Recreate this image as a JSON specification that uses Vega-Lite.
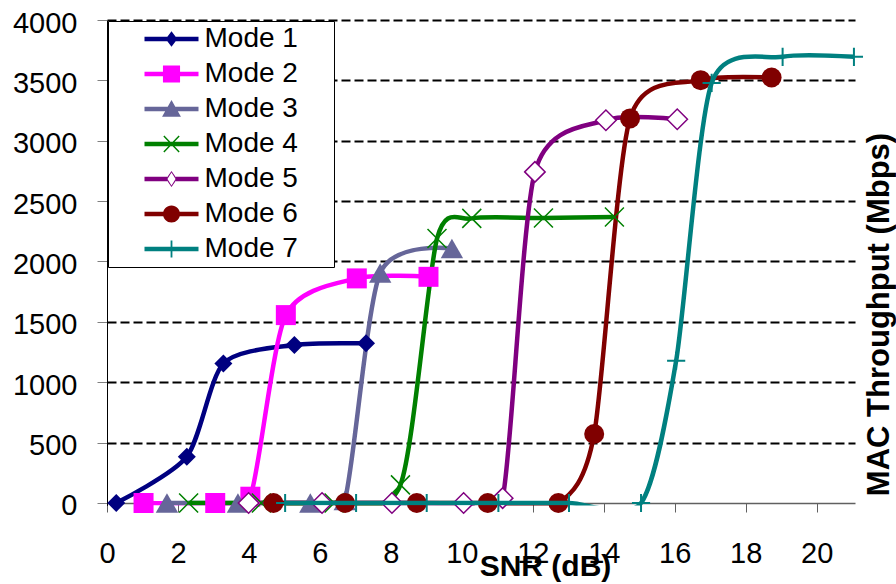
{
 "$schema": "https://vega.github.io/schema/vega-lite/v6.json",
 "autosize": {"type": "none"},
 "padding": {"left": 107, "top": 20, "right": 41, "bottom": 78.6},
 "width": 748,
 "height": 485.4,
 "background": "white",
 "config": {"view": {"stroke": null}, "font": "Liberation Sans", "legend": {"strokeWidth": 1}},
 "data": {"values": [
  {"mode": "Mode 1", "snr": 0.26, "tput": 0},
  {"mode": "Mode 1", "snr": 2.25, "tput": 383},
  {"mode": "Mode 1", "snr": 3.28, "tput": 1155},
  {"mode": "Mode 1", "snr": 5.28, "tput": 1308},
  {"mode": "Mode 1", "snr": 7.30, "tput": 1322},
  {"mode": "Mode 2", "snr": 1.03, "tput": 0},
  {"mode": "Mode 2", "snr": 3.05, "tput": 0},
  {"mode": "Mode 2", "snr": 4.04, "tput": 52},
  {"mode": "Mode 2", "snr": 5.04, "tput": 1556},
  {"mode": "Mode 2", "snr": 7.04, "tput": 1860},
  {"mode": "Mode 2", "snr": 9.06, "tput": 1873},
  {"mode": "Mode 3", "snr": 1.69, "tput": 0},
  {"mode": "Mode 3", "snr": 3.69, "tput": 0},
  {"mode": "Mode 3", "snr": 5.73, "tput": 0},
  {"mode": "Mode 3", "snr": 6.7, "tput": 20},
  {"mode": "Mode 3", "snr": 7.70, "tput": 1905},
  {"mode": "Mode 3", "snr": 9.72, "tput": 2108},
  {"mode": "Mode 4", "snr": 2.3, "tput": 0},
  {"mode": "Mode 4", "snr": 4.35, "tput": 0},
  {"mode": "Mode 4", "snr": 6.4, "tput": 0},
  {"mode": "Mode 4", "snr": 8.27, "tput": 150},
  {"mode": "Mode 4", "snr": 9.3, "tput": 2190},
  {"mode": "Mode 4", "snr": 10.28, "tput": 2357},
  {"mode": "Mode 4", "snr": 12.3, "tput": 2360},
  {"mode": "Mode 4", "snr": 14.3, "tput": 2368},
  {"mode": "Mode 5", "snr": 3.99, "tput": 0},
  {"mode": "Mode 5", "snr": 6.06, "tput": 0},
  {"mode": "Mode 5", "snr": 8.03, "tput": 0},
  {"mode": "Mode 5", "snr": 10.05, "tput": 0},
  {"mode": "Mode 5", "snr": 11.15, "tput": 40},
  {"mode": "Mode 5", "snr": 12.06, "tput": 2742},
  {"mode": "Mode 5", "snr": 14.06, "tput": 3170},
  {"mode": "Mode 5", "snr": 16.07, "tput": 3178},
  {"mode": "Mode 6", "snr": 4.69, "tput": 0},
  {"mode": "Mode 6", "snr": 6.71, "tput": 0},
  {"mode": "Mode 6", "snr": 8.73, "tput": 0},
  {"mode": "Mode 6", "snr": 10.73, "tput": 0},
  {"mode": "Mode 6", "snr": 12.72, "tput": 0},
  {"mode": "Mode 6", "snr": 13.73, "tput": 571},
  {"mode": "Mode 6", "snr": 14.74, "tput": 3185},
  {"mode": "Mode 6", "snr": 16.73, "tput": 3502},
  {"mode": "Mode 6", "snr": 18.73, "tput": 3524},
  {"mode": "Mode 7", "snr": 5.02, "tput": 0},
  {"mode": "Mode 7", "snr": 7.02, "tput": 0},
  {"mode": "Mode 7", "snr": 9.01, "tput": 0},
  {"mode": "Mode 7", "snr": 11.03, "tput": 0},
  {"mode": "Mode 7", "snr": 13.02, "tput": 0},
  {"mode": "Mode 7", "snr": 15.05, "tput": 0},
  {"mode": "Mode 7", "snr": 16.04, "tput": 1178},
  {"mode": "Mode 7", "snr": 17.04, "tput": 3479},
  {"mode": "Mode 7", "snr": 19.04, "tput": 3695},
  {"mode": "Mode 7", "snr": 21.05, "tput": 3695}
 ]},
 "encoding": {
  "x": {
   "field": "snr", "type": "quantitative",
   "scale": {"domain": [0, 21.08], "nice": false, "zero": false},
   "axis": {
    "values": [0, 2, 4, 6, 8, 10, 12, 14, 16, 18, 20],
    "grid": false, "title": "SNR (dB)", "offset": -2.4,
    "tickSize": 9, "tickColor": "#606060", "domainColor": "#606060", "domainWidth": 1.5,
    "labelFont": "Liberation Sans", "labelFontSize": 29, "labelColor": "black", "labelPadding": 27.5,
    "labelFlush": false, "labelOverlap": false,
    "titleFont": "Liberation Sans", "titleFontSize": 30, "titleFontWeight": "bold", "titleColor": "black",
    "titleX": 438, "titleY": 72, "titleBaseline": "alphabetic", "titleAlign": "center"
   }
  },
  "y": {
   "field": "tput", "type": "quantitative",
   "scale": {"domain": [-20, 4000], "nice": false, "zero": false},
   "axis": {
    "values": [0, 500, 1000, 1500, 2000, 2500, 3000, 3500, 4000],
    "format": "d",
    "title": "MAC Throughput (Mbps)",
    "grid": true,
    "gridColor": {"condition": {"test": "datum.value === 0", "value": "transparent"}, "value": "black"},
    "gridDash": [9, 4], "gridWidth": 2,
    "tickSize": 10, "tickColor": "#808080", "domainColor": "black", "domainWidth": 1,
    "labelFont": "Liberation Sans", "labelFontSize": 29, "labelColor": "black", "labelPadding": 20, "labelOffset": 3,
    "labelFlush": false, "labelOverlap": false,
    "titleFont": "Liberation Sans", "titleFontSize": 31, "titleFontWeight": "bold", "titleColor": "black",
    "titleX": 781, "titleY": 294, "titleAngle": 270, "titleBaseline": "alphabetic", "titleAlign": "center"
   }
  },
  "color": {
   "field": "mode", "type": "nominal",
   "scale": {
    "domain": ["Mode 1", "Mode 2", "Mode 3", "Mode 4", "Mode 5", "Mode 6", "Mode 7"],
    "range": ["#000080", "#FF00FF", "#666699", "#008000", "#800080", "#800000", "#008080"]
   },
   "legend": {
    "orient": "none", "legendX": 1, "legendY": 1, "title": null,
    "padding": 4, "fillColor": "white", "strokeColor": "black",
    "symbolSize": 324, "symbolOffset": 45.5, "labelOffset": 19, "symbolStrokeWidth": 0, "symbolOpacity": 1,
    "labelFont": "Liberation Sans", "labelFontSize": 28, "labelColor": "black", "labelLimit": 300,
    "rowPadding": 7,
    "labelExpr": "datum.label + '\u00a0\u00a0\u00a0\u00a0\u200b'"
   }
  }
 },
 "layer": [
  {"mark": {"type": "point", "filled": true, "opacity": 0, "size": 10},
   "encoding": {
    "shape": {
     "field": "mode", "type": "nominal",
     "scale": {
      "domain": ["Mode 1", "Mode 2", "Mode 3", "Mode 4", "Mode 5", "Mode 6", "Mode 7"],
      "range": [
       "M-3,-0.25H3V0.25H-3Z M0,-0.85L0.65,0L0,0.85L-0.65,0Z",
       "M-3,-0.25H3V0.25H-3Z M-0.95,-0.95H0.95V0.95H-0.95Z",
       "M-3,-0.25H3V0.25H-3Z M0,-1L1.05,0.85H-1.05Z",
       "M-3,-0.25H3V0.25H-3Z M-0.908,-0.845L-0.792,-0.955L0.908,0.845L0.792,0.955Z M-0.792,0.955L-0.908,0.845L0.792,-0.955L0.908,-0.845Z",
       "M-3,-0.25H-0.5V0.25H-3Z M0.5,-0.25H3V0.25H0.5Z M0,-0.9L0.62,0L0,0.9L-0.62,0Z M0,-0.72L-0.45,0L0,0.72L0.45,0Z",
       "M-3,-0.25H3V0.25H-3Z M-0.95,0A0.95,0.95,0,1,1,0.95,0A0.95,0.95,0,1,1,-0.95,0Z",
       "M-3,-0.25H3V0.25H-3Z M-0.1,-0.95H0.1V0.95H-0.1Z"
      ]
     },
     "legend": {
      "orient": "none", "legendX": 1, "legendY": 1, "title": null,
      "padding": 4, "fillColor": "white", "strokeColor": "black",
      "symbolSize": 324, "symbolOffset": 45.5, "labelOffset": 19, "symbolStrokeWidth": 0, "symbolOpacity": 1,
      "labelFont": "Liberation Sans", "labelFontSize": 28, "labelColor": "black", "labelLimit": 300,
      "rowPadding": 7,
      "labelExpr": "datum.label + '\u00a0\u00a0\u00a0\u00a0\u200b'"
     }
    }
   }},
  {"transform": [{"filter": "datum.mode != 'Mode 7'"}],
   "mark": {"type": "line", "interpolate": "cardinal", "tension": 0.25, "strokeWidth": 4.5, "clip": true}},
  {"transform": [{"filter": "datum.mode == 'Mode 1'"}],
   "mark": {"type": "point", "shape": "diamond", "filled": true, "size": 324, "opacity": 1}},
  {"transform": [{"filter": "datum.mode == 'Mode 2'"}],
   "mark": {"type": "point", "shape": "square", "filled": true, "size": 400, "opacity": 1}},
  {"transform": [{"filter": "datum.mode == 'Mode 3'"}],
   "mark": {"type": "point", "shape": "triangle-up", "filled": true, "size": 500, "opacity": 1}},
  {"transform": [{"filter": "datum.mode == 'Mode 4'"}],
   "mark": {"type": "point", "shape": "M-1,-1L1,1M-1,1L1,-1", "filled": false, "strokeWidth": 1.5, "size": 360, "opacity": 1}},
  {"transform": [{"filter": "datum.mode == 'Mode 5'"}],
   "mark": {"type": "point", "shape": "diamond", "filled": false, "fill": "white", "fillOpacity": 1, "strokeWidth": 1.5, "size": 420, "opacity": 1}},
  {"transform": [{"filter": "datum.mode == 'Mode 6'"}],
   "mark": {"type": "point", "shape": "circle", "filled": true, "size": 400, "opacity": 1}},
  {"transform": [{"filter": "datum.mode == 'Mode 7'"}],
   "mark": {"type": "line", "interpolate": "cardinal", "tension": 0.25, "strokeWidth": 4.5, "clip": true}},
  {"transform": [{"filter": "datum.mode == 'Mode 7'"}],
   "mark": {"type": "point", "shape": "M-1,0H1M0,-1V1", "filled": false, "strokeWidth": 2, "size": 330, "opacity": 1}}
 ]
}
